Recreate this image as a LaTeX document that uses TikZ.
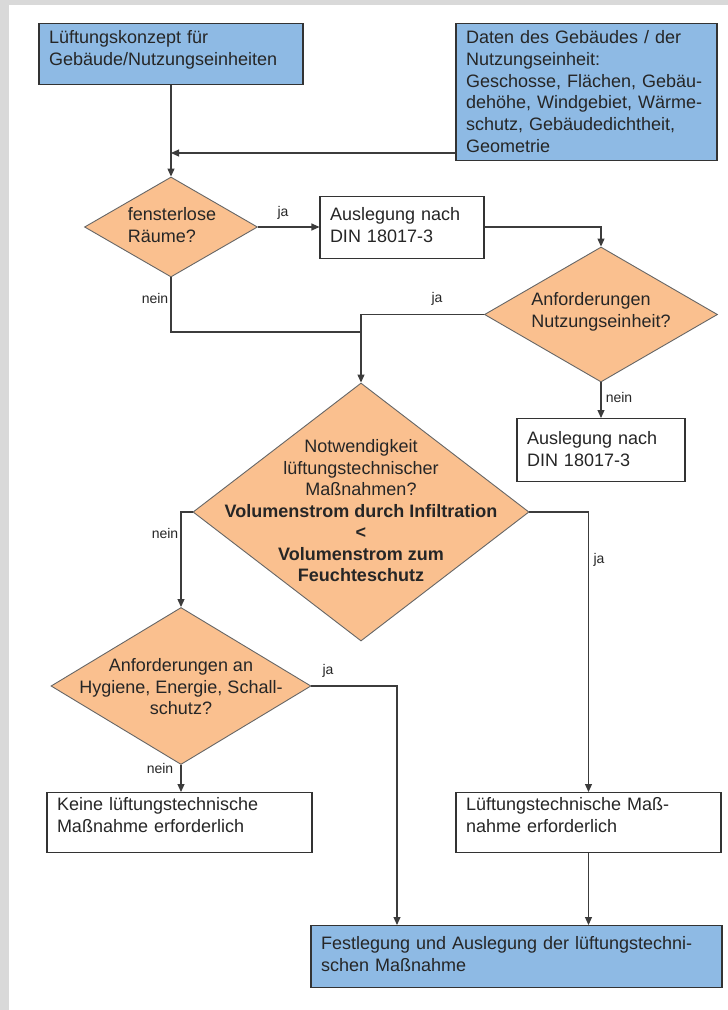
\documentclass[tikz,border=0pt]{standalone}
\usepackage{fontspec}
\setmainfont{Liberation Sans}
\usepackage{tikz}
\usetikzlibrary{%
	arrows.meta,%
	calc,%
	shapes.geometric
}
\definecolor{boxblue}{RGB}{142,186,228}
\definecolor{decorange}{RGB}{250,192,143}
\definecolor{linegray}{RGB}{60,60,60}
\definecolor{framegray}{RGB}{217,217,217}
\tikzstyle{line}=[draw=linegray, line width=1.1pt]
\tikzstyle{arrow}=[line, -{Triangle[length=8pt,width=7pt]}]
\tikzstyle{box}=[draw=black!80, line width=1.1pt, fill=white, rectangle, anchor=north, align=left, inner xsep=10pt, inner ysep=6pt, text height=14pt, font=\fontsize{18}{21.8}\selectfont, text=black!85]
\tikzstyle{infobox}=[box, fill=boxblue]
\tikzstyle{decision}=[draw=black!60, line width=0.9pt, fill=decorange, diamond, inner sep=0pt]
\tikzstyle{dectext}=[font=\fontsize{18}{21.5}\selectfont, text=black!85]
\tikzstyle{answer}=[font=\fontsize{14}{16}\selectfont, text=black!85]

\begin{document}
\begin{tikzpicture}[x=1pt, y=-1pt]
				% Frame
				\useasboundingbox[fill=framegray] (0,0) rectangle (728,1010);
				\fill[white] (9,5) rectangle (728,1010);
				
				% Boxes (placed by their top edge)
				\node[infobox, text width=244pt, text depth=35pt] (concept) at (171,23) {Lüftungskonzept für\\Gebäude/Nutzungseinheiten};
				\node[infobox, text width=241pt, text depth=111pt] (data) at (586.5,23) {Daten des Gebäudes / der\\Nutzungseinheit:\\Geschosse, Flächen, Gebäu-\\dehöhe, Windgebiet, Wärme-\\schutz, Gebäudedichtheit,\\Geometrie};
				\node[box, text width=144pt, text height=18pt, text depth=32pt] (din1) at (402,196) {Auslegung nach\\DIN 18017-3};
				\node[box, text width=148pt, text height=20pt, text depth=31pt] (din2) at (601,418) {Auslegung nach\\DIN 18017-3};
				\node[box, text width=245pt, text height=12pt, text depth=36pt] (none) at (179.5,792) {Keine lüftungstechnische\\Maßnahme erforderlich};
				\node[box, text width=245pt, text height=12pt, text depth=36pt] (needed) at (588.5,792) {Lüftungstechnische Maß-\\nahme erforderlich};
				\node[infobox, text width=391pt, text height=18pt, text depth=32pt] (final) at (516.5,925) {Festlegung und Auslegung der lüftungstechni-\\schen Maßnahme};
				
				% Decisions
				\node[decision, minimum width=173pt, minimum height=100pt] (windowless) at (171,227) {};
				\node[dectext, align=left] (windowlesstext) at (172,225) {fensterlose\\Räume?};
				\node[decision, minimum width=233pt, minimum height=135pt] (unitreq) at (601,314.5) {};
				\node[dectext, align=left] (unitreqtext) at (601,312) {Anforderungen\\Nutzungseinheit?};
				\node[decision, minimum width=336pt, minimum height=258pt] (necessity) at (361,512) {};
				\node[dectext, align=center] (necessitytext) at (361,511) {Notwendigkeit\\lüftungstechnischer\\Maßnahmen?\\\textbf{Volumenstrom durch Infiltration}\\\textbf{<}\\\textbf{Volumenstrom zum}\\\textbf{Feuchteschutz}};
				\node[decision, minimum width=260pt, minimum height=157pt] (hygiene) at (181,686) {};
				\node[dectext, align=center] (hygienetext) at (181,687) {Anforderungen an\\Hygiene, Energie, Schall-\\schutz?};
				
				% Junctions
				\coordinate (j1) at (171,153);
				\coordinate (j2) at (361,332);
				\coordinate (j3) at (397,686);
				
				% Connectors
				\draw[arrow] (concept) -- (windowless);
				\draw[arrow] (data.west |- j1) -- (j1);
				\draw[arrow] (windowless.east) -- (windowless.east -| din1.west);
				\draw[arrow] (din1.east |- windowless.east) -| (unitreq.north);
				\draw[line] (windowless.south) |- (j2);
				\draw[arrow] (unitreq.west) -| (necessity.north);
				\draw[arrow] (unitreq.south) -- (din2.north);
				\draw[arrow] (necessity.west) -| (hygiene.north);
				\draw[arrow] (necessity.east) -| (needed.north);
				\draw[arrow] (hygiene.south) -- (hygiene.south |- none.north);
				\draw[arrow] (hygiene.east) -- (j3) -- (j3 |- final.north);
				\draw[arrow] (needed.south) -- (needed.south |- final.north);
				
				% Answers
				\node[answer] (ja1) at (283,213) {ja};
				\node[answer] (nein1) at (155,298) {nein};
				\node[answer] (ja2) at (437,299) {ja};
				\node[answer] (nein2) at (619,397) {nein};
				\node[answer] (nein3) at (165,533) {nein};
				\node[answer] (ja3) at (599,560) {ja};
				\node[answer] (ja4) at (328,671) {ja};
				\node[answer] (nein4) at (160,768) {nein};
			\end{tikzpicture}
\end{document}
